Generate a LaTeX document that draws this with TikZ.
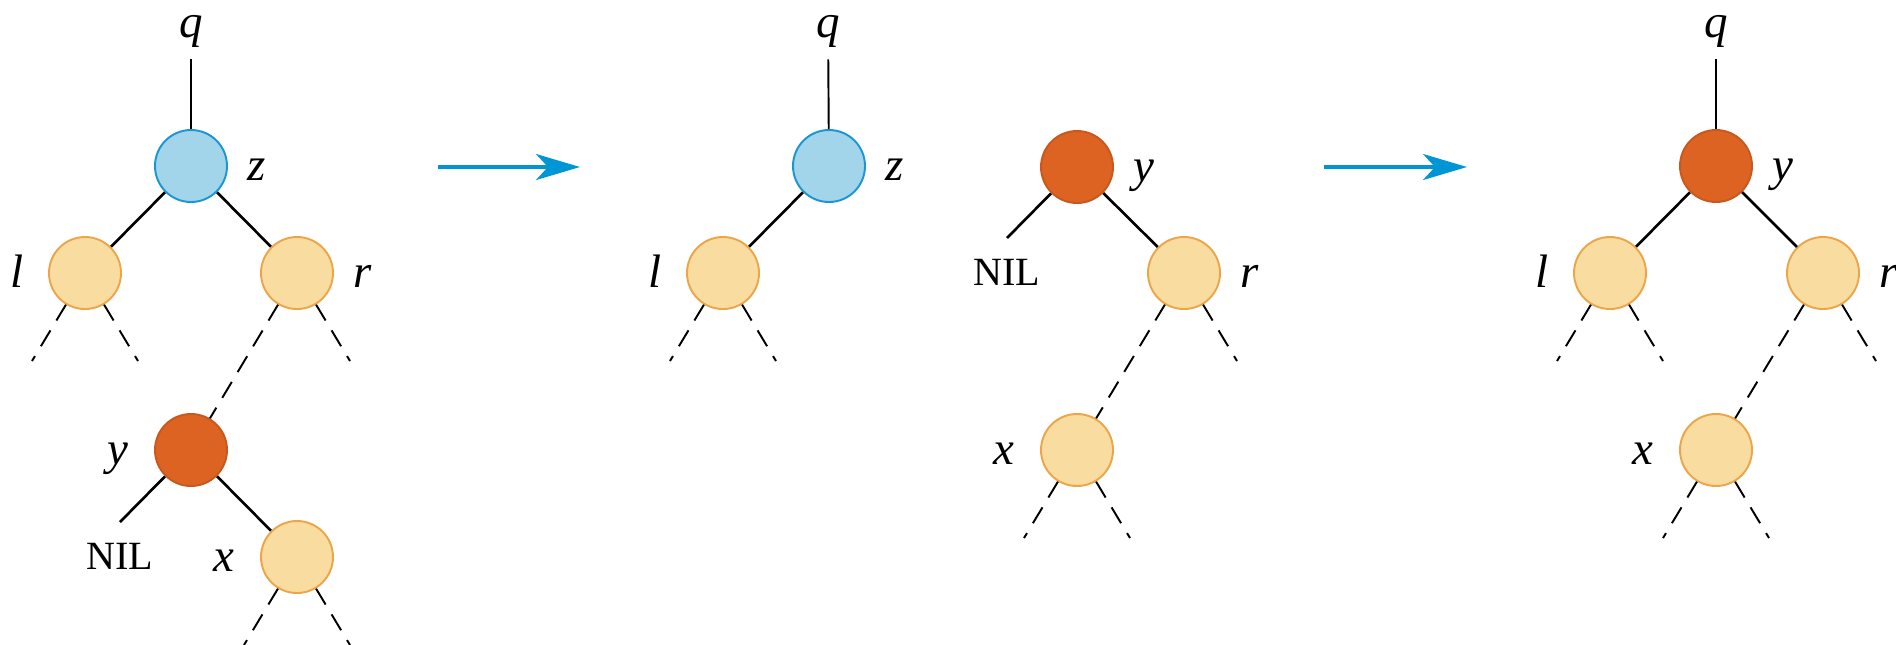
\documentclass[tikz,border=0pt]{standalone}
\usepackage{fontspec}
\setmainfont{Liberation Serif}
\usetikzlibrary{arrows.meta}
\usetikzlibrary{positioning}
\usetikzlibrary{calc}

\definecolor{bluefill}{HTML}{A2D5E9}
\definecolor{blueline}{HTML}{1A96D4}
\definecolor{redfill}{HTML}{DC6322}
\definecolor{redline}{HTML}{C9581E}
\definecolor{tanfill}{HTML}{F9DC9F}
\definecolor{tanline}{HTML}{EDA54A}
\definecolor{arrowblue}{HTML}{0096D6}

\tikzset{
  vert/.style={circle, line width=1.1pt, minimum size=14.4mm, inner sep=0pt},
  blue node/.style={vert, draw=blueline, fill=bluefill},
  red node/.style={vert, draw=redline, fill=redfill},
  tan node/.style={vert, draw=tanline, fill=tanfill},
  tag/.style={inner sep=0pt, text height=20pt, text depth=4pt,
    font=\fontsize{26.7}{30}\selectfont\itshape},
  nil/.style={inner sep=0pt, font=\fontsize{22.8}{26}\selectfont},
  edge/.style={line width=1.5pt},
  link/.style={line width=1.1pt, shorten <=3mm},
  stub/.style={line width=1.1pt, dash pattern=on 3.7mm off 2.3mm},
  move/.style={draw=arrowblue, line width=1.9pt, -{Stealth[length=8.8mm,width=5.2mm,inset=2.4mm]}}
}

\begin{document}
\begin{tikzpicture}[x=0.2mm, y=0.2mm]
\useasboundingbox (0,0) rectangle (1896,-644);

% tree before the first step
\node[tag] (q1) at (191,-23) {q};
\node[blue node] (z1) at (191,-166) {};
\node[tan node] (l1) at (85,-273) {};
\node[tan node] (r1) at (297,-273) {};
\node[red node] (y1) at (191,-450) {};
\node[tan node] (x1) at (297,-557) {};
\node[tag, right=3.8mm of z1] (zt1) {z};
\node[tag, left=4.9mm of l1] (lt1) {l};
\node[tag, right=3.8mm of r1] (rt1) {r};
\node[tag, left=5mm of y1] (yt1) {y};
\node[tag, left=5mm of x1] (xt1) {x};
\coordinate (n1) at ($(y1)+(-71,-72)$);
\node[nil, below=4.2mm of n1] (nil1) {NIL};

\draw[link] (q1) -- (z1);
\draw[edge] (z1) -- (l1);
\draw[edge] (z1) -- (r1);
\draw[stub] (l1) -- +(-53,-88);
\draw[stub] (l1) -- +(53,-88);
\draw[stub] (r1) -- (y1);
\draw[stub] (r1) -- +(53,-88);
\draw[edge] (y1) -- (n1);
\draw[edge] (y1) -- (x1);
\draw[stub] (x1) -- +(-53,-88);
\draw[stub] (x1) -- +(53,-88);

% first step
\coordinate (a1) at (438,-167);
\coordinate (b1) at (580,-167);
\draw[move] (a1) -- (b1);

% z keeps only l
\node[tag] (q2) at (828,-23) {q};
\node[blue node] (z2) at (829,-166) {};
\node[tan node] (l2) at (723,-273) {};
\node[tag, right=3.8mm of z2] (zt2) {z};
\node[tag, left=4.9mm of l2] (lt2) {l};

\draw[link] (q2) -- (z2);
\draw[edge] (z2) -- (l2);
\draw[stub] (l2) -- +(-53,-88);
\draw[stub] (l2) -- +(53,-88);

% y lifted out, x in its place
\node[red node] (y3) at (1077,-167) {};
\node[tan node] (r3) at (1184,-273) {};
\node[tan node] (x3) at (1077,-450) {};
\node[tag, right=3.8mm of y3] (yt3) {y};
\node[tag, right=3.8mm of r3] (rt3) {r};
\node[tag, left=5mm of x3] (xt3) {x};
\coordinate (n3) at ($(y3)+(-70,-71)$);
\node[nil, below=4.2mm of n3] (nil3) {NIL};

\draw[edge] (y3) -- (n3);
\draw[edge] (y3) -- (r3);
\draw[stub] (r3) -- (x3);
\draw[stub] (r3) -- +(53,-88);
\draw[stub] (x3) -- +(-53,-88);
\draw[stub] (x3) -- +(53,-88);

% second step
\coordinate (a2) at (1324,-167);
\coordinate (b2) at (1467,-167);
\draw[move] (a2) -- (b2);

% y replaces z
\node[tag] (q4) at (1716,-23) {q};
\node[red node] (y4) at (1716,-166) {};
\node[tan node] (l4) at (1610,-273) {};
\node[tan node] (r4) at (1823,-273) {};
\node[tan node] (x4) at (1716,-450) {};
\node[tag, right=3.8mm of y4] (yt4) {y};
\node[tag, left=4.9mm of l4] (lt4) {l};
\node[tag, right=3.8mm of r4] (rt4) {r};
\node[tag, left=5mm of x4] (xt4) {x};

\draw[link] (q4) -- (y4);
\draw[edge] (y4) -- (l4);
\draw[edge] (y4) -- (r4);
\draw[stub] (l4) -- +(-53,-88);
\draw[stub] (l4) -- +(53,-88);
\draw[stub] (r4) -- (x4);
\draw[stub] (r4) -- +(53,-88);
\draw[stub] (x4) -- +(-53,-88);
\draw[stub] (x4) -- +(53,-88);
\end{tikzpicture}
\end{document}
